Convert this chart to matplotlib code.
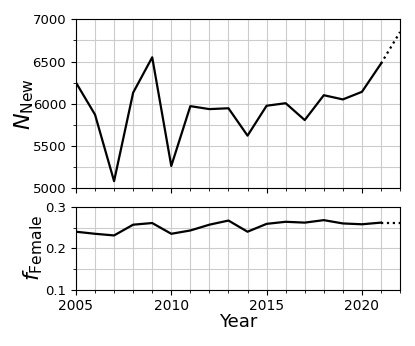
import numpy as np
import matplotlib
matplotlib.use("Agg")
import matplotlib.pyplot as plt
from matplotlib.ticker import MultipleLocator

# data
years = [2005, 2006, 2007, 2008, 2009, 2010, 2011, 2012, 2013,
         2014, 2015, 2016, 2017, 2018, 2019, 2020, 2021]
n_new = [6250, 5870, 5080, 6130, 6550, 5260, 5970, 5935, 5945,
         5620, 5975, 6005, 5805, 6100, 6050, 6140, 6475]
f_female = [0.240, 0.235, 0.231, 0.257, 0.261, 0.235, 0.243, 0.257, 0.267,
            0.240, 0.259, 0.264, 0.262, 0.268, 0.260, 0.258, 0.262]
# projection (dotted)
proj_years = [2021, 2022]
proj_n_new = [6475, 6850]
proj_f_female = [0.262, 0.262]

fig = plt.figure(figsize=(4.15, 3.46), dpi=100)
ax1 = fig.add_axes([0.183, 0.457, 0.781, 0.487])
ax2 = fig.add_axes([0.183, 0.163, 0.781, 0.239])

for ax in (ax1, ax2):
    ax.set_xlim(2005, 2022)
    ax.xaxis.set_major_locator(MultipleLocator(5))
    ax.xaxis.set_minor_locator(MultipleLocator(1))
    ax.grid(which="both", color="#cccccc", linewidth=0.8)
    ax.set_axisbelow(True)
    ax.tick_params(axis="x", labelsize=10)
    ax.tick_params(axis="y", labelsize=9.5)

ax1.plot(years, n_new, color="k", lw=1.6)
ax1.plot(proj_years, proj_n_new, color="k", lw=1.6, ls=":")
ax1.set_ylim(5000, 7000)
ax1.yaxis.set_major_locator(MultipleLocator(500))
ax1.yaxis.set_minor_locator(MultipleLocator(250))
ax1.tick_params(labelbottom=False)
ax1.set_ylabel(r"$N_{\mathrm{New}}$", fontsize=16)
ax1.yaxis.set_label_coords(-0.124, 0.5)

ax2.plot(years, f_female, color="k", lw=1.6)
ax2.plot(proj_years, proj_f_female, color="k", lw=1.6, ls=":")
ax2.set_ylim(0.1, 0.3)
ax2.yaxis.set_major_locator(MultipleLocator(0.1))
ax2.yaxis.set_minor_locator(MultipleLocator(0.05))
ax2.set_ylabel(r"$f_{\mathrm{Female}}$", fontsize=16)
ax2.yaxis.set_label_coords(-0.094, 0.5)
ax2.set_xlabel("Year", fontsize=13, labelpad=0)

fig.savefig("out.png", dpi=100)
